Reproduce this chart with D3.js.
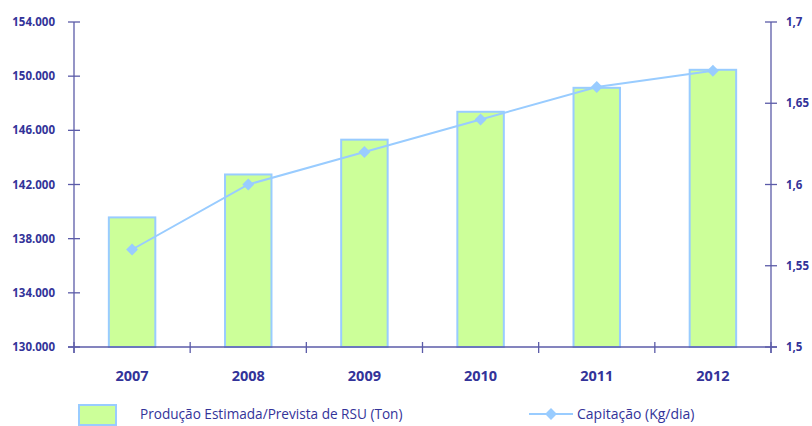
<!DOCTYPE html>
<html>
<head>
<meta charset="utf-8">
<script src="https://cdn.jsdelivr.net/npm/d3@7"></script>
<style>
  html, body { margin: 0; padding: 0; background: #fff; }
  svg text { font-family: "Open Sans", "Noto Sans", sans-serif; }
</style>
</head>
<body>
<svg id="chart" width="812" height="426"></svg>
<script>
// Produção de RSU (toneladas) e capitação (kg/hab/dia) por ano
const years = ["2007", "2008", "2009", "2010", "2011", "2012"];
const producao = [139570, 142740, 145310, 147370, 149140, 150470];
const capitacao = [1.56, 1.60, 1.62, 1.64, 1.66, 1.67];
const leftTicks = [130000, 134000, 138000, 142000, 146000, 150000, 154000];
const rightTicks = [1.5, 1.55, 1.6, 1.65, 1.7];
const legendLabels = ["Produção Estimada/Prevista de RSU (Ton)", "Capitação (Kg/dia)"];

const axisColor = "#5b5ba8";
const textColor = "#333399";
const barFill = "#ccff99";
const barStroke = "#99ccff";
const lineColor = "#99ccff";

const svg = d3.select("#chart");
const plotLeft = 74, plotRight = 771, plotTop = 22, plotBottom = 347;

const x = d3.scaleBand().domain(years).range([plotLeft, plotRight]).paddingInner(0.6).paddingOuter(0.3);
const xEdge = d3.scaleLinear().domain([0, years.length]).range([plotLeft, plotRight]);
const yL = d3.scaleLinear().domain([130000, 154000]).range([plotBottom, plotTop]);
const yR = d3.scaleLinear().domain([1.5, 1.7]).range([plotBottom, plotTop]);

const fmtL = d => d3.format(",.0f")(d).replace(/,/g, ".");
const fmtR = d => String(+d.toFixed(2)).replace(".", ",");

// barras
svg.append("g").selectAll("rect").data(producao).join("rect")
  .attr("x", (d, i) => x(years[i]))
  .attr("y", d => yL(d))
  .attr("width", x.bandwidth())
  .attr("height", d => yL(130000) - yL(d))
  .attr("fill", barFill)
  .attr("stroke", barStroke)
  .attr("stroke-width", 2);

// eixo esquerdo
const gL = svg.append("g");
gL.append("line").attr("x1", plotLeft).attr("x2", plotLeft).attr("y1", plotTop).attr("y2", plotBottom + 6)
  .attr("stroke", axisColor).attr("stroke-width", 1.3);
gL.selectAll("line.t").data(leftTicks).join("line").attr("class", "t")
  .attr("x1", plotLeft - 6).attr("x2", plotLeft + 6)
  .attr("y1", d => yL(d)).attr("y2", d => yL(d))
  .attr("stroke", axisColor).attr("stroke-width", 1.3);
gL.selectAll("text").data(leftTicks).join("text")
  .attr("x", 55).attr("y", d => yL(d)).attr("dy", "0.35em")
  .attr("text-anchor", "end")
  .attr("font-size", 11.5).attr("font-weight", "bold").attr("fill", textColor)
  .text(fmtL);

// eixo direito
const gR = svg.append("g");
gR.append("line").attr("x1", plotRight).attr("x2", plotRight).attr("y1", plotTop).attr("y2", plotBottom + 6)
  .attr("stroke", axisColor).attr("stroke-width", 1.3);
gR.selectAll("line.t").data(rightTicks).join("line").attr("class", "t")
  .attr("x1", plotRight - 6).attr("x2", plotRight + 6)
  .attr("y1", d => yR(d)).attr("y2", d => yR(d))
  .attr("stroke", axisColor).attr("stroke-width", 1.3);
gR.selectAll("text").data(rightTicks).join("text")
  .attr("x", 786).attr("y", d => yR(d)).attr("dy", "0.35em")
  .attr("text-anchor", "start")
  .attr("font-size", 11.5).attr("font-weight", "bold").attr("fill", textColor)
  .text(fmtR);

// eixo horizontal
const gX = svg.append("g");
gX.append("line").attr("x1", plotLeft - 6).attr("x2", plotRight + 6).attr("y1", plotBottom).attr("y2", plotBottom)
  .attr("stroke", axisColor).attr("stroke-width", 1.3);
gX.selectAll("line.t").data(d3.range(years.length + 1)).join("line").attr("class", "t")
  .attr("x1", d => xEdge(d)).attr("x2", d => xEdge(d))
  .attr("y1", plotBottom - 5).attr("y2", plotBottom + 6)
  .attr("stroke", axisColor).attr("stroke-width", 1.3);
gX.selectAll("text").data(years).join("text")
  .attr("x", d => x(d) + x.bandwidth() / 2).attr("y", 376).attr("dy", "0.35em")
  .attr("text-anchor", "middle")
  .attr("font-size", 14.5).attr("font-weight", "bold").attr("fill", textColor)
  .text(d => d);

// linha da capitação
const cx = (d, i) => x(years[i]) + x.bandwidth() / 2;
svg.append("path").datum(capitacao)
  .attr("d", d3.line().x(cx).y(d => yR(d)))
  .attr("fill", "none").attr("stroke", lineColor).attr("stroke-width", 2);
const diamond = d3.symbol().type(d3.symbolDiamond2).size(90);
svg.append("g").selectAll("path").data(capitacao).join("path")
  .attr("d", diamond)
  .attr("transform", (d, i) => `translate(${cx(d, i)},${yR(d)})`)
  .attr("fill", lineColor);

// legenda
const lg = svg.append("g");
lg.append("rect").attr("x", 79).attr("y", 405).attr("width", 37).attr("height", 20)
  .attr("fill", barFill).attr("stroke", barStroke).attr("stroke-width", 2);
lg.append("text").attr("x", 140).attr("y", 414).attr("dy", "0.35em")
  .attr("font-size", 13.6).attr("fill", textColor).text(legendLabels[0]);
lg.append("line").attr("x1", 529).attr("x2", 573).attr("y1", 414).attr("y2", 414)
  .attr("stroke", lineColor).attr("stroke-width", 2);
lg.append("path").attr("d", diamond).attr("transform", "translate(551,414)").attr("fill", lineColor);
lg.append("text").attr("x", 577).attr("y", 414).attr("dy", "0.35em")
  .attr("font-size", 14).attr("fill", textColor).text(legendLabels[1]);
</script>
</body>
</html>
